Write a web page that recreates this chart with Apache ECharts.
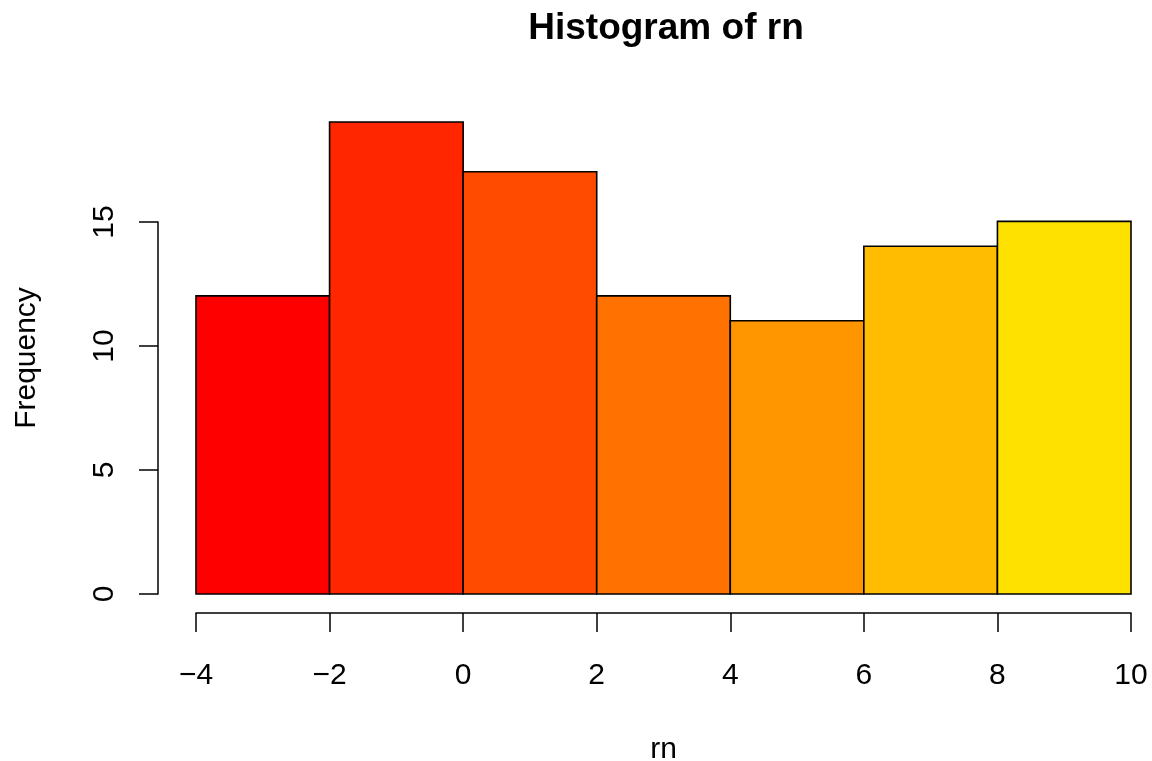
<!DOCTYPE html>
<html>
<head>
<meta charset="utf-8">
<script src="https://cdn.jsdelivr.net/npm/echarts@6/dist/echarts.min.js"></script>
<style>html,body{margin:0;padding:0;background:#fff;}#c{width:1152px;height:761px;}</style>
</head>
<body>
<div id="c"></div>
<script>
var breaks = [-4, -2, 0, 2, 4, 6, 8, 10];
var counts = [12, 19, 17, 12, 11, 14, 15];
var barColors = ['#FF0000', '#FF2600', '#FF4B00', '#FF7100', '#FF9600', '#FFBC00', '#FFE100'];
var xTicks = [-4, -2, 0, 2, 4, 6, 8, 10];
var yTicks = [0, 5, 10, 15];
var titleText = 'Histogram of rn';
var xName = 'rn';
var yName = 'Frequency';

var FONT = 'Liberation Sans';
var data = counts.map(function (c, i) { return [breaks[i], breaks[i + 1], c, i]; });

var chart = echarts.init(document.getElementById('c'));
chart.setOption({
  backgroundColor: '#ffffff',
  animation: false,
  title: {
    text: titleText, left: 661, top: 5, textAlign: 'center',
    textStyle: { fontFamily: FONT, fontSize: 37, fontWeight: 'bold', color: '#000' }
  },
  grid: [
    { left: 196, right: 21, top: 122, bottom: 167, outerBoundsMode: 'none', containLabel: false },
    { left: 196, right: 21, top: 222, bottom: 167, outerBoundsMode: 'none', containLabel: false }
  ],
  xAxis: [
    {
      gridIndex: 0, type: 'value', min: xTicks[0], max: xTicks[xTicks.length - 1], interval: 2,
      offset: 19, name: xName, nameLocation: 'middle', nameGap: 122,
      nameTextStyle: { fontFamily: FONT, fontSize: 30, color: '#000' },
      axisLine: { show: true, onZero: false, lineStyle: { color: '#000', width: 1.5 } },
      axisTick: { show: true, length: 19, lineStyle: { color: '#000', width: 1.5 } },
      axisLabel: { fontFamily: FONT, fontSize: 30, color: '#000', margin: 48,
        formatter: function (v) { return String(v).replace('-', '\u2212'); } },
      splitLine: { show: false }
    },
    { gridIndex: 1, type: 'value', min: -4, max: 10, show: false }
  ],
  yAxis: [
    {
      gridIndex: 0, type: 'value', min: 0, max: 19, show: true,
      name: yName, nameLocation: 'middle', nameRotate: 90, nameGap: 154,
      nameTextStyle: { fontFamily: FONT, fontSize: 30, color: '#000' },
      axisLine: { show: false, onZero: false }, axisTick: { show: false }, axisLabel: { show: false },
      splitLine: { show: false }
    },
    {
      gridIndex: 1, type: 'value', min: yTicks[0], max: yTicks[yTicks.length - 1], interval: 5,
      offset: 38,
      axisLine: { show: true, onZero: false, lineStyle: { color: '#000', width: 1.5 } },
      axisTick: { show: true, length: 19, lineStyle: { color: '#000', width: 1.5 } },
      axisLabel: { fontFamily: FONT, fontSize: 30, color: '#000', rotate: 90, margin: 38 },
      splitLine: { show: false }
    }
  ],
  series: [{
    type: 'custom',
    xAxisIndex: 0, yAxisIndex: 0,
    data: data,
    encode: { x: [0, 1], y: 2 },
    renderItem: function (params, api) {
      var p0 = api.coord([api.value(0), api.value(2)]);
      var p1 = api.coord([api.value(1), 0]);
      return {
        type: 'rect',
        shape: { x: p0[0], y: p0[1], width: p1[0] - p0[0], height: p1[1] - p0[1] },
        style: { fill: barColors[api.value(3)], stroke: '#000', lineWidth: 1.6 }
      };
    }
  }]
});
</script>
</body>
</html>
